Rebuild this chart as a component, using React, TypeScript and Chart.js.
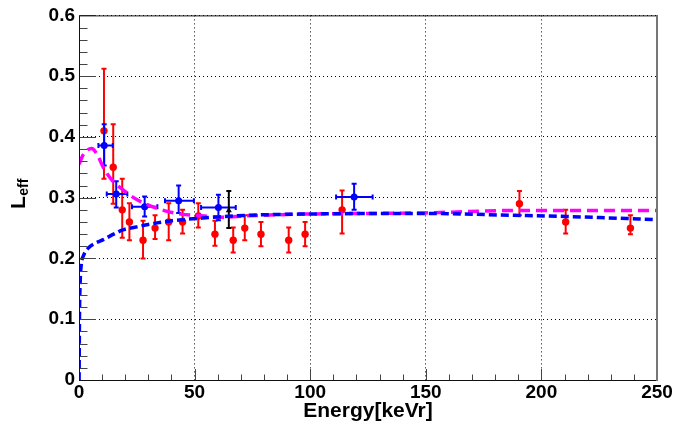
import React, { useEffect, useRef } from 'react';
import { Chart, registerables } from 'chart.js';

Chart.register(...registerables);

// ---- data ----
const redX = [10.8, 14.8, 18.7, 21.8, 27.7, 32.9, 38.8, 44.8, 51.6, 58.8, 66.7, 71.7, 78.7, 90.7, 97.8, 113.8, 190.5, 210.5, 238.5];
const redY = [0.41, 0.35, 0.28, 0.26, 0.23, 0.25, 0.26, 0.26, 0.27, 0.24, 0.23, 0.25, 0.24, 0.23, 0.24, 0.28, 0.29, 0.26, 0.25];
const redYHigh = [0.512, 0.421, 0.331, 0.291, 0.262, 0.271, 0.291, 0.28, 0.291, 0.262, 0.251, 0.271, 0.26, 0.251, 0.26, 0.312, 0.311, 0.28, 0.271];
const redYLow = [0.331, 0.29, 0.234, 0.23, 0.2, 0.232, 0.23, 0.241, 0.251, 0.221, 0.21, 0.23, 0.22, 0.21, 0.22, 0.241, 0.271, 0.241, 0.24];

const blueX = [10.9, 16.1, 28.4, 43.1, 60.3, 119.0];
const blueY = [0.386, 0.306, 0.285, 0.295, 0.284, 0.301];
const blueXLow = [8.4, 12.0, 22.9, 37.2, 52.8, 111.2];
const blueXHigh = [14.6, 20.9, 33.9, 49.7, 67.8, 127.0];
const blueYLow = [0.353, 0.284, 0.269, 0.275, 0.263, 0.28];
const blueYHigh = [0.421, 0.327, 0.302, 0.32, 0.305, 0.323];

const blackX = [64.8];
const blackY = [0.279];
const blackYLow = [0.25];
const blackYHigh = [0.311];

const magentaCurveX = [0, 2, 5.5, 8, 10.5, 14, 18, 25, 35, 44, 54, 62, 72, 97, 150, 188, 250];
const magentaCurveY = [0.355, 0.372, 0.381, 0.37, 0.35, 0.33, 0.316, 0.297, 0.281, 0.273, 0.27, 0.268, 0.27, 0.273, 0.275, 0.279, 0.279];

const blueCurveX = [0.05, 0.2, 0.5, 1, 2, 4, 7, 10.5, 15, 19, 25, 30, 40, 55, 73, 95, 150, 188, 211, 250];
const blueCurveY = [0.0, 0.1, 0.16, 0.19, 0.205, 0.217, 0.225, 0.231, 0.24, 0.247, 0.252, 0.256, 0.262, 0.267, 0.271, 0.273, 0.274, 0.271, 0.269, 0.264];

const xTickValues = [0, 50, 100, 150, 200, 250];
const yTickValues = [0, 0.1, 0.2, 0.3, 0.4, 0.5, 0.6];

const FONT = "'Liberation Sans', Arial, Helvetica, sans-serif";

const errorBarPlugin = {
  id: 'errorBars',
  beforeDatasetDraw(chart: any, args: any) {
    const ds = chart.data.datasets[args.index];
    const eb = ds.errorBars;
    if (!eb) return;
    const { ctx, chartArea } = chart;
    const xs = chart.scales.x;
    const ys = chart.scales.y;
    ctx.save();
    ctx.beginPath();
    ctx.rect(chartArea.left, chartArea.top, chartArea.right - chartArea.left, chartArea.bottom - chartArea.top);
    ctx.clip();
    ctx.strokeStyle = eb.color;
    ctx.lineWidth = eb.width;
    const cap = eb.cap;
    ds.data.forEach((p: any, i: number) => {
      const px = xs.getPixelForValue(p.x);
      const py = ys.getPixelForValue(p.y);
      if (eb.yLow) {
        const y1 = ys.getPixelForValue(eb.yLow[i]);
        const y2 = ys.getPixelForValue(eb.yHigh[i]);
        ctx.beginPath();
        ctx.moveTo(px, y1);
        ctx.lineTo(px, y2);
        ctx.moveTo(px - cap, y1);
        ctx.lineTo(px + cap, y1);
        ctx.moveTo(px - cap, y2);
        ctx.lineTo(px + cap, y2);
        ctx.stroke();
      }
      if (eb.xLow) {
        const x1 = xs.getPixelForValue(eb.xLow[i]);
        const x2 = xs.getPixelForValue(eb.xHigh[i]);
        ctx.beginPath();
        ctx.moveTo(x1, py);
        ctx.lineTo(x2, py);
        ctx.moveTo(x1, py - cap);
        ctx.lineTo(x1, py + cap);
        ctx.moveTo(x2, py - cap);
        ctx.lineTo(x2, py + cap);
        ctx.stroke();
      }
    });
    ctx.restore();
  },
};

const frameAndTicksPlugin = {
  id: 'frameTicks',
  afterDatasetsDraw(chart: any) {
    const { ctx, chartArea } = chart;
    const xs = chart.scales.x;
    const ys = chart.scales.y;
    const { left, bottom } = chartArea;
    ctx.save();
    ctx.strokeStyle = '#444';
    ctx.lineWidth = 1;
    for (let v = 0; v <= 250; v += 10) {
      const px = Math.round(xs.getPixelForValue(v)) + 0.5;
      const len = v % 50 === 0 ? 11 : 5.5;
      ctx.beginPath();
      ctx.moveTo(px, bottom);
      ctx.lineTo(px, bottom - len);
      ctx.stroke();
    }
    for (let k = 0; k <= 30; k++) {
      const v = k * 0.02;
      const py = Math.round(ys.getPixelForValue(v)) + 0.5;
      const len = k % 5 === 0 ? 17 : 8.5;
      ctx.beginPath();
      ctx.moveTo(left, py);
      ctx.lineTo(left + len, py);
      ctx.stroke();
    }
    ctx.restore();
  },
  afterDraw(chart: any) {
    const { ctx, chartArea } = chart;
    const { left, right, top, bottom } = chartArea;
    ctx.save();
    ctx.strokeStyle = '#111';
    ctx.lineWidth = 1;
    ctx.beginPath();
    ctx.moveTo(left + 0.5, bottom);
    ctx.lineTo(left + 0.5, top + 0.5);
    ctx.lineTo(right, top + 0.5);
    ctx.moveTo(left, bottom + 0.5);
    ctx.lineTo(right, bottom + 0.5);
    ctx.stroke();
    ctx.strokeStyle = '#777';
    ctx.lineWidth = 2;
    ctx.beginPath();
    ctx.moveTo(right, top);
    ctx.lineTo(right, bottom + 1);
    ctx.stroke();

    // y-axis title: L_eff (rotated)
    ctx.fillStyle = '#000';
    ctx.translate(25, 209);
    ctx.rotate(-Math.PI / 2);
    ctx.textBaseline = 'alphabetic';
    ctx.textAlign = 'left';
    ctx.font = `bold 21px ${FONT}`;
    ctx.fillText('L', 0, 0);
    const w = ctx.measureText('L').width;
    ctx.font = `bold 14px ${FONT}`;
    ctx.fillText('eff', w + 0.5, 3);
    ctx.restore();
  },
};

export default function App() {
  const ref = useRef<HTMLCanvasElement | null>(null);
  useEffect(() => {
    document.body.style.margin = '0';
    const canvas = ref.current;
    if (!canvas) return;

    const chart = new Chart(canvas, {
      type: 'scatter',
      data: {
        datasets: [
          {
            label: 'magenta fit',
            data: magentaCurveX.map((x, i) => ({ x, y: magentaCurveY[i] })),
            showLine: true,
            borderColor: '#ff00ff',
            borderWidth: 3.5,
            borderDash: [11, 6],
            pointRadius: 0,
            tension: 0.4,
            cubicInterpolationMode: 'monotone',
            order: 1,
          } as any,
          {
            label: 'blue fit',
            data: blueCurveX.map((x, i) => ({ x, y: blueCurveY[i] })),
            showLine: true,
            borderColor: '#0000ff',
            borderWidth: 3.5,
            borderDash: [8, 4],
            pointRadius: 0,
            tension: 0.4,
            cubicInterpolationMode: 'monotone',
            order: 0,
          } as any,
          {
            label: 'red data',
            data: redX.map((x, i) => ({ x, y: redY[i] })),
            pointRadius: 3.7,
            pointBackgroundColor: '#ff0000',
            pointBorderColor: '#ff0000',
            pointBorderWidth: 0,
            errorBars: { yLow: redYLow, yHigh: redYHigh, color: '#ff0000', width: 2, cap: 2.5 },
            order: 4,
          } as any,
          {
            label: 'blue data',
            data: blueX.map((x, i) => ({ x, y: blueY[i] })),
            pointRadius: 3.5,
            pointBackgroundColor: '#0000ff',
            pointBorderColor: '#0000ff',
            pointBorderWidth: 0,
            errorBars: { yLow: blueYLow, yHigh: blueYHigh, xLow: blueXLow, xHigh: blueXHigh, color: '#0000ff', width: 2, cap: 2.5 },
            order: 3,
          } as any,
          {
            label: 'black data',
            data: blackX.map((x, i) => ({ x, y: blackY[i] })),
            pointStyle: 'triangle',
            pointRadius: 3.5,
            pointBackgroundColor: '#000',
            pointBorderColor: '#000',
            pointBorderWidth: 0,
            errorBars: { yLow: blackYLow, yHigh: blackYHigh, color: '#000', width: 2, cap: 2.5 },
            order: 2,
          } as any,
        ],
      },
      options: {
        responsive: false,
        animation: false,
        events: [],
        layout: { padding: { left: 0, right: 18, top: 13, bottom: 0 } },
        plugins: {
          legend: { display: false },
          tooltip: { enabled: false },
        },
        scales: {
          x: {
            type: 'linear',
            min: 0,
            max: 250,
            afterFit(scale: any) {
              scale.height = 47;
            },
            afterBuildTicks(scale: any) {
              scale.ticks = xTickValues.map((v) => ({ value: v }));
            },
            ticks: {
              padding: 1,
              color: '#000',
              font: { family: FONT, size: 19, weight: 'bold' },
              callback: (v: any) => String(v),
              maxRotation: 0,
            },
            grid: {
              color: '#000',
              lineWidth: 1,
              drawTicks: false,
              tickLength: 0,
            },
            border: { display: false, dash: [1, 3] },
            title: {
              display: true,
              text: 'Energy[keVr]',
              color: '#000',
              font: { family: FONT, size: 21, weight: 'bold' },
              padding: { top: 0, bottom: 3 },
            },
          },
          y: {
            type: 'linear',
            min: 0,
            max: 0.6,
            afterFit(scale: any) {
              scale.width = 79;
            },
            afterBuildTicks(scale: any) {
              scale.ticks = yTickValues.map((v) => ({ value: v }));
            },
            ticks: {
              padding: 4,
              color: '#000',
              font: { family: FONT, size: 19, weight: 'bold' },
              callback: (v: any) => (Number(v) === 0 ? '0' : Number(v).toFixed(1)),
            },
            grid: {
              color: '#000',
              lineWidth: 1,
              drawTicks: false,
              tickLength: 0,
            },
            border: { display: false, dash: [1, 3] },
          },
        },
      } as any,
      plugins: [errorBarPlugin, frameAndTicksPlugin],
    });
    return () => chart.destroy();
  }, []);

  return (
    <div style={{ width: 675, height: 427 }}>
      <canvas ref={ref} width={675} height={427} style={{ display: 'block' }} />
    </div>
  );
}
